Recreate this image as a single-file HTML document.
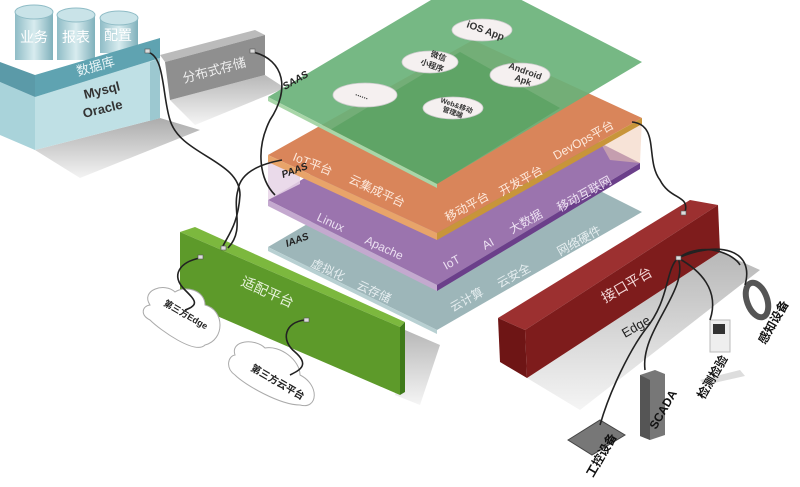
<!DOCTYPE html>
<html><head><meta charset="utf-8"><style>
html,body{margin:0;padding:0;background:#fff;}
svg{display:block}
text{font-family:"Liberation Sans","Noto Sans CJK SC",sans-serif;}
</style></head><body>
<svg width="800" height="487" viewBox="0 0 800 487" xmlns="http://www.w3.org/2000/svg">
<defs>
<linearGradient id="sh" x1="0" y1="0" x2="0" y2="1"><stop offset="0" stop-color="#888"/><stop offset="1" stop-color="#eee"/></linearGradient>
<linearGradient id="cyl" x1="0" y1="0" x2="1" y2="0"><stop offset="0" stop-color="#8fbcc6"/><stop offset="0.5" stop-color="#d8ecef"/><stop offset="1" stop-color="#7fb0bb"/></linearGradient>
</defs>
<!-- database -->
<polygon points="35,150 160,118 200,130 80,178" fill="url(#sh)" opacity="0.7"/>
<polygon points="0,82 35,97 35,150 0,135" fill="#a9d3da"/>
<polygon points="35,97 160,58 160,118 35,150" fill="#bfe0e5"/>
<polygon points="150,62 160,58 160,118 150,121" fill="#9cc8d0"/>
<g>
<rect x="15" y="12" width="38" height="48" fill="url(#cyl)"/><ellipse cx="34" cy="12" rx="19" ry="7" fill="#c9e3e8" stroke="#8fbcc6"/>
<rect x="57" y="15" width="38" height="45" fill="url(#cyl)"/><ellipse cx="76" cy="15" rx="19" ry="7" fill="#c9e3e8" stroke="#8fbcc6"/>
<rect x="100" y="18" width="38" height="35" fill="url(#cyl)"/><ellipse cx="119" cy="18" rx="19" ry="7" fill="#c9e3e8" stroke="#8fbcc6"/>
</g>
<text x="20" y="42" font-size="14" fill="#fff">业务</text>
<text x="62" y="42" font-size="14" fill="#fff">报表</text>
<text x="104" y="40" font-size="14" fill="#fff">配置</text>
<polygon points="0,62 35,75 35,97 0,82" fill="#5b9aa8"/>
<polygon points="35,75 160,38 160,58 35,97" fill="#5fa3b1"/>
<text x="0" y="0" font-size="13" fill="#e8f4f6" transform="translate(78,76) rotate(-16)">数据库</text>
<text x="0" y="0" font-size="13" font-weight="bold" fill="#333" transform="translate(85,99) rotate(-14)">Mysql</text>
<text x="0" y="0" font-size="13" font-weight="bold" fill="#333" transform="translate(84,118) rotate(-14)">Oracle</text>
<!-- storage -->
<polygon points="170,100 265,75 285,88 195,125" fill="url(#sh)" opacity="0.6"/>
<polygon points="160,55 255,30 265,35 165,62" fill="#bbb"/>
<polygon points="165,62 265,35 265,75 170,100" fill="#8f8f8f"/>
<text x="0" y="0" font-size="13" fill="#eee" transform="translate(184,83) rotate(-15)">分布式存储</text>
<!-- gray IAAS layer -->
<polygon points="268,247 473,127 642,212 437,330" fill="#9db6b9"/>
<polygon points="268,247 437,330 437,334 268,251" fill="#b8d0d2"/>
<!-- purple -->
<polygon points="268,200 471,78 640,163 437,285" fill="#9b74ae"/>
<polygon points="268,200 437,285 437,291 268,206" fill="#c4a9cf"/>
<polygon points="437,285 640,163 640,169 437,291" fill="#6b3f8a"/>
<!-- translucent paas strips -->
<polygon points="268,160 300,176 300,184 268,200" fill="#e6d4e6" opacity="0.85"/>
<polygon points="600,142 642,118 640,163 610,160" fill="#f0c8b0" opacity="0.5"/>
<!-- orange -->
<polygon points="268,155 473,40 642,118 437,233" fill="#d9855a"/>
<polygon points="268,155 437,233 437,240 268,162" fill="#e8a46a"/>
<polygon points="437,233 642,118 642,124 437,240" fill="#c8953a"/>
<!-- green -->
<polygon points="268,97 473,-25 642,62 437,184" fill="#6ab27a" opacity="0.92"/>
<polygon points="330,130 460,52 560,108 437,184" fill="#4c9a55" opacity="0.5"/>
<polygon points="268,97 437,184 437,188 268,101" fill="#a8d6a8"/>
<!-- clouds -->
<g fill="#f5f0f0" stroke="#ccc" stroke-width="0.8">
<ellipse cx="482" cy="30" rx="30" ry="11"/><ellipse cx="430" cy="62" rx="28" ry="11"/>
<ellipse cx="520" cy="75" rx="30" ry="12"/><ellipse cx="365" cy="95" rx="32" ry="12"/>
<ellipse cx="453" cy="108" rx="30" ry="11"/>
</g>
<g font-size="8" font-weight="bold" fill="#333">
<text transform="translate(466,27) rotate(20)" font-size="10">iOS App</text>
<text transform="translate(430,56) rotate(20)">微信</text><text transform="translate(420,64) rotate(20)">小程序</text>
<text transform="translate(508,68) rotate(20)" font-size="9">Android</text><text transform="translate(514,80) rotate(20)" font-size="9">Apk</text>
<text transform="translate(355,95) rotate(20)">......</text>
<text transform="translate(440,102) rotate(20)" font-size="7">Web&amp;移动</text><text transform="translate(442,111) rotate(20)" font-size="7">管理端</text>
</g>
<!-- layer labels -->
<g font-size="12" fill="#fde9dc">
<text transform="translate(292,160) rotate(22)">IoT平台</text>
<text transform="translate(348,182) rotate(25)">云集成平台</text>
<text transform="translate(448,222) rotate(-29)">移动平台</text>
<text transform="translate(502,196) rotate(-29)">开发平台</text>
<text transform="translate(556,160) rotate(-29)">DevOps平台</text>
</g>
<g font-size="12" fill="#ece0f2">
<text transform="translate(316,220) rotate(25)">Linux</text>
<text transform="translate(364,243) rotate(25)">Apache</text>
<text transform="translate(446,270) rotate(-29)">IoT</text>
<text transform="translate(485,250) rotate(-29)">AI</text>
<text transform="translate(512,234) rotate(-29)">大数据</text>
<text transform="translate(560,212) rotate(-29)">移动互联网</text>
</g>
<g font-size="12" fill="#e6eef0">
<text transform="translate(310,266) rotate(25)">虚拟化</text>
<text transform="translate(356,288) rotate(25)">云存储</text>
<text transform="translate(453,312) rotate(-29)">云计算</text>
<text transform="translate(500,288) rotate(-29)">云安全</text>
<text transform="translate(560,256) rotate(-29)">网络硬件</text>
</g>
<g font-size="10" font-weight="bold" font-style="italic" fill="#222">
<text transform="translate(285,90) rotate(-30)">SAAS</text>
<text transform="translate(283,178) rotate(-20)">PAAS</text>
<text transform="translate(287,247) rotate(-20)">IAAS</text>
</g>
<!-- green box -->
<polygon points="395,395 405,330 440,345 420,405" fill="url(#sh)" opacity="0.6"/>
<polygon points="180,232 195,227 405,322 400,327" fill="#7cb83e"/>
<polygon points="180,232 400,327 400,395 180,300" fill="#5d9a2a"/>
<polygon points="400,327 405,322 405,392 400,395" fill="#3f7a1a"/>
<text transform="translate(240,285) rotate(24)" font-size="14" fill="#e8f3dc">适配平台</text>
<!-- red box -->
<polygon points="527,378 720,252 760,270 580,410" fill="url(#sh)" opacity="0.6"/>
<polygon points="498,318 690,200 718,205 525,330" fill="#9c3030"/>
<polygon points="525,330 718,205 720,252 527,378" fill="#7e1c1c"/>
<polygon points="498,318 525,330 527,378 500,362" fill="#6e1515"/>
<text transform="translate(605,303) rotate(-30)" font-size="14" fill="#f3d8d8">接口平台</text>
<text transform="translate(625,338) rotate(-30)" font-size="13" fill="#222">Edge</text>
<!-- third-party clouds -->
<g fill="#fff" stroke="#aaa">
<path d="M150,305 C140,290 165,282 175,292 C185,285 205,290 205,305 C225,310 225,340 205,345 C195,355 160,330 150,320 C140,315 142,306 150,305Z"/>
<path d="M235,355 C230,340 255,338 265,348 C280,345 300,360 300,375 C320,385 318,410 300,405 C280,405 245,385 235,375 C225,368 228,356 235,355Z"/>
</g>
<text transform="translate(163,305) rotate(30)" font-size="9" font-weight="bold" fill="#222">第三方Edge</text>
<text transform="translate(250,370) rotate(30)" font-size="10" font-weight="bold" fill="#222">第三方云平台</text>
<!-- devices -->
<polygon points="568,440 600,420 625,435 592,455" fill="#777" stroke="#444"/>
<polygon points="640,375 655,370 665,374 665,435 650,440 640,436" fill="#777"/>
<polygon points="640,375 650,380 650,440 640,436" fill="#555"/>
<rect x="710" y="320" width="20" height="32" fill="#eee" stroke="#bbb"/><rect x="713" y="324" width="12" height="10" fill="#333"/>
<polygon points="700,380 740,370 745,376 705,385" fill="#ddd"/>
<ellipse cx="757" cy="300" rx="10" ry="18" fill="none" stroke="#555" stroke-width="6" transform="rotate(-20 757 300)"/>
<g font-size="12" font-weight="bold" fill="#111">
<text transform="translate(593,478) rotate(-60)">工控设备</text>
<text transform="translate(656,430) rotate(-60)">SCADA</text>
<text transform="translate(704,400) rotate(-60)">检测检验</text>
<text transform="translate(765,345) rotate(-60)">感知设备</text>
</g>
<!-- wires -->
<g fill="none" stroke="#222" stroke-width="1.6">
<path d="M147,52 C165,55 162,95 170,120 C180,155 240,160 240,195 C238,225 228,235 222,248"/>
<path d="M253,52 C285,60 290,90 270,120 C255,150 260,180 275,195"/>
<path d="M282,160 C255,165 240,175 238,190 C232,210 245,230 228,248"/>
<path d="M200,258 C180,262 170,275 185,290 C195,300 200,305 185,310"/>
<path d="M305,320 C285,322 280,340 295,352 C310,365 300,370 290,375"/>
<path d="M632,122 C660,125 645,160 660,180 C670,200 690,195 685,212"/>
<path d="M678,258 C665,270 670,300 645,330 C630,350 610,390 600,425"/>
<path d="M678,258 C690,290 640,330 645,370"/>
<path d="M678,258 C700,270 720,290 710,320"/>
<path d="M678,258 C720,240 755,250 745,285"/>
<path d="M678,258 C705,240 735,255 740,265"/>
</g>
<g fill="#ddd" stroke="#555" stroke-width="0.6">
<rect x="145" y="49" width="5" height="4"/><rect x="250" y="49" width="5" height="4"/>
<rect x="221" y="246" width="5" height="4"/><rect x="198" y="255" width="5" height="4"/>
<rect x="304" y="318" width="5" height="4"/><rect x="681" y="211" width="5" height="4"/><rect x="676" y="256" width="5" height="4"/>
</g>
</svg>
</body></html>
